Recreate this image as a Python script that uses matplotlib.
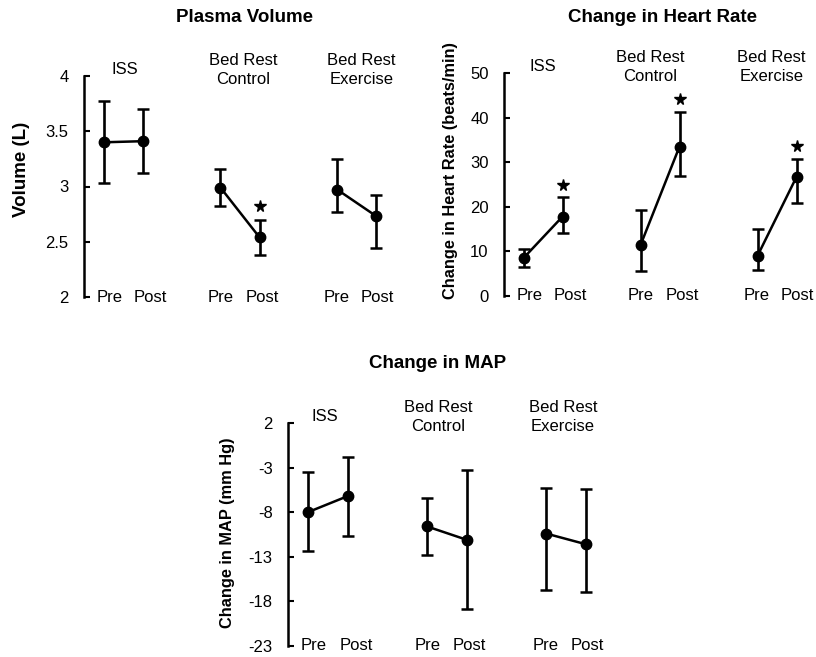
import numpy as np
import matplotlib
matplotlib.use('Agg')
import matplotlib.pyplot as plt

plt.rcParams['font.family'] = ['Liberation Sans', 'DejaVu Sans']

groups = ['ISS', 'Bed Rest\nControl', 'Bed Rest\nExercise']
phases = ['Pre', 'Post']
group_x = [0, 3, 6]

# plasma volume (L)
pv_mean = [[3.40, 3.41], [2.99, 2.54], [2.97, 2.73]]
pv_upper = [[3.77, 3.70], [3.16, 2.70], [3.25, 2.92]]
pv_lower = [[3.03, 3.12], [2.82, 2.38], [2.77, 2.44]]
pv_star = [None, 2.82, None]
pv_ticks = [2, 2.5, 3, 3.5, 4]
pv_ticklabels = ['2', '2.5', '3', '3.5', '4']

# change in heart rate (beats/min)
hr_mean = [[8.5, 17.8], [11.4, 33.5], [9.0, 26.7]]
hr_upper = [[10.5, 22.1], [19.3, 41.2], [15.0, 30.7]]
hr_lower = [[6.6, 14.1], [5.7, 26.9], [5.8, 20.9]]
hr_star = [25.0, 44.2, 33.7]
hr_ticks = [0, 10, 20, 30, 40, 50]

# change in MAP (mm Hg)
map_mean = [[-8.0, -6.2], [-9.6, -11.1], [-10.4, -11.6]]
map_upper = [[-3.5, -1.8], [-6.4, -3.3], [-5.3, -5.4]]
map_lower = [[-12.4, -10.7], [-12.8, -18.9], [-16.7, -16.9]]
map_star = [None, None, None]
map_ticks = [2, -3, -8, -13, -18, -23]

label_shift = [0.15, 0.0, -0.03]


def panel(ax, mean, upper, lower, star, ticks, ticklabels, ylabel, ylabel_size, label_xy,
          head_shift):
    ymin, ymax = min(ticks), max(ticks)
    span = ymax - ymin
    for g in range(3):
        xs = np.array([group_x[g], group_x[g] + 1])
        m = np.array(mean[g])
        err = [m - np.array(lower[g]), np.array(upper[g]) - m]
        ax.errorbar(xs, m, yerr=err, color='black', lw=1.8, elinewidth=1.9,
                    capsize=4.5, capthick=1.8, marker='o', markersize=7.5)
        if star[g] is not None:
            ax.plot(xs[1], star[g], marker='*', color='black', markersize=8.5, ls='none')
        for x, p in zip(xs, phases):
            ax.text(x + label_shift[g] + (0.06 if p == 'Post' else 0), ymin, p,
                    ha='center', va='center', fontsize=12)
        ax.text(xs.mean() + head_shift[g], ymax + span * 0.028, groups[g],
                ha='center', va='center', fontsize=12, linespacing=1.3)
    ax.set_xlim(-0.5, 7.5)
    ax.set_ylim(ymin, ymax)
    ax.set_yticks(ticks)
    ax.set_yticklabels(ticklabels)
    ax.set_xticks([])
    for s in ['top', 'right', 'bottom']:
        ax.spines[s].set_visible(False)
    ax.spines['left'].set_linewidth(1.8)
    ax.tick_params(axis='y', direction='in', length=4, width=1.5, pad=11, labelsize=12)
    ax.set_ylabel(ylabel, fontsize=ylabel_size, fontweight='bold')
    ax.yaxis.set_label_coords(*label_xy)
    ax.yaxis.label.set_va('center')


fig = plt.figure(figsize=(8.16, 6.57), dpi=100)

ax1 = fig.add_axes([84 / 816, 1 - 297 / 657, 312 / 816, 221 / 657])
panel(ax1, pv_mean, pv_upper, pv_lower, pv_star, pv_ticks, pv_ticklabels,
      'Volume (L)', 13.5, (-0.199, 0.577), [0.05, 0.08, 0.12])

ax2 = fig.add_axes([504 / 816, 1 - 296 / 657, 312 / 816, 223 / 657])
panel(ax2, hr_mean, hr_upper, hr_lower, hr_star, hr_ticks, [str(t) for t in hr_ticks],
      'Change in Heart Rate (beats/min)', 11.8, (-0.173, 0.565), [0.0, -0.25, -0.15])

ax3 = fig.add_axes([288 / 816, 1 - 646 / 657, 318 / 816, 223 / 657])
panel(ax3, map_mean, map_upper, map_lower, map_star, map_ticks, [str(t) for t in map_ticks],
      'Change in MAP (mm Hg)', 11.8, (-0.189, 0.51), [-0.08, -0.22, -0.08])

fig.text(244 / 816, 1 - 18 / 657, 'Plasma Volume', ha='center', va='center',
         fontsize=13.5, fontweight='bold')
fig.text(662 / 816, 1 - 17 / 657, 'Change in Heart Rate', ha='center', va='center',
         fontsize=13.5, fontweight='bold')
fig.text(438 / 816, 1 - 363 / 657, 'Change in MAP', ha='center', va='center',
         fontsize=13.5, fontweight='bold')

fig.savefig('out.png', dpi=100)
